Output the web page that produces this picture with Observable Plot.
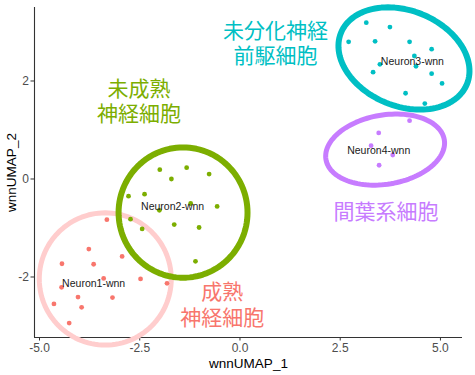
<!DOCTYPE html>
<html><head><meta charset="utf-8">
<script src="https://cdn.jsdelivr.net/npm/d3@7"></script>
<script src="https://cdn.jsdelivr.net/npm/@observablehq/plot@0.6"></script>
<style>body{margin:0;background:#fff;} #chart svg{display:block;}</style>
</head><body><div id="chart"></div>
<script>
// ---- data ----
const clusters = ["Neuron1-wnn", "Neuron2-wnn", "Neuron3-wnn", "Neuron4-wnn"];
const pointColors = ["#F8766D", "#7CAE00", "#00BFC4", "#C77CFF"];
const ellipseColors = ["#FFCDCD", "#7CAE00", "#00BFC4", "#C77CFF"];

const n1x = [-3.32,-3.77,-4.44,-3.65,-2.94,-3.40,-2.48,-1.82,-4.45,-4.04,-3.18,-4.64,-3.95,-4.26];
const n1y = [-0.83,-1.43,-1.73,-1.74,-1.58,-2.03,-2.04,-2.13,-2.21,-2.41,-2.42,-2.55,-2.62,-2.94];
const n2x = [-2.00,-1.33,-0.77,-1.71,-2.78,-2.38,-1.23,-0.57,-2.01,-2.73,-2.44,-1.64,-1.02,-1.11];
const n2y = [0.19,0.23,0.10,0.00,-0.35,-0.31,-0.50,-0.56,-0.64,-0.82,-1.02,-0.93,-0.99,-1.68];
const n3x = [3.15,3.74,2.71,3.37,4.23,4.78,4.35,3.49,4.39,3.32,4.78,5.04,4.13,4.61];
const n3y = [3.19,3.10,2.80,2.81,2.80,2.65,2.51,2.34,2.30,2.18,2.15,1.95,1.75,1.54];
const n4x = [4.23,3.46,3.27,3.81,3.47];
const n4y = [1.19,0.94,0.68,0.49,0.28];

const labelX = [-3.65, -1.68, 4.30, 3.46];
const labelY = [-2.13, -0.56, 2.40, 0.58];

// ellipse: centre + two conjugate semi-axis vectors (data units)
const ellCx = [-3.36, -1.42, 4.09, 3.62];
const ellCy = [-2.04, -0.685, 2.46, 0.60];
const ellUx = [1.646, 1.608, 1.572, 1.476];
const ellUy = [0, 0, -0.521, 0.202];
const ellVx = [0, 0, -0.446, 0.142];
const ellVy = [1.35, 1.33, -0.904, -0.697];
const ellWidth = [5, 6, 6, 5];

const annText = ["未分化神経\n前駆細胞", "未成熟\n神経細胞", "成熟\n神経細胞", "間葉系細胞"];
const annX = [0.885, -2.52, -0.44, 3.64];
const annY = [2.79, 1.60, -2.55, -0.66];
const annColor = ["#00BFC4", "#7CAE00", "#F8766D", "#C77CFF"];

const xTicks = [-5.0, -2.5, 0.0, 2.5, 5.0];
const yTicks = [-2, 0, 2];
const xDomain = [-5.125, 5.55];
const yDomain = [-3.235, 3.50];

// ---- build tables ----
const xs = [n1x, n2x, n3x, n4x], ys = [n1y, n2y, n3y, n4y];
const points = [];
xs.forEach((arr, i) => arr.forEach((x, j) => points.push({x, y: ys[i][j], c: i})));

function ellipse(i) {
  const out = [];
  const n = 120;
  for (let k = 0; k < n; k++) {
    const t = 2 * Math.PI * k / n;
    out.push({
      x: ellCx[i] + ellUx[i] * Math.cos(t) + ellVx[i] * Math.sin(t),
      y: ellCy[i] + ellUy[i] * Math.cos(t) + ellVy[i] * Math.sin(t)
    });
  }
  return out;
}
const labels = clusters.map((t, i) => ({t, x: labelX[i], y: labelY[i]}));
const anns = annText.map((t, i) => ({t, x: annX[i], y: annY[i], c: annColor[i]}));

const font = "'Liberation Sans', Arial, sans-serif";
const fmtX = d => (d < 0 ? "-" : "") + Math.abs(d).toFixed(1);
const fmtY = d => (d < 0 ? "-" : "") + Math.abs(d);

const chart = Plot.plot({
  width: 475,
  height: 375,
  marginLeft: 34,
  marginRight: 13,
  marginTop: 7,
  marginBottom: 38,
  style: {fontFamily: font, background: "#fff", overflow: "visible"},
  x: {domain: xDomain},
  y: {domain: yDomain},
  marks: [
    Plot.axisX({ticks: xTicks, tickFormat: fmtX, tickSize: 3.5, tickPadding: 2, fontSize: 12, color: "#4D4D4D", stroke: "#333", label: null}),
    Plot.axisY({ticks: yTicks, tickFormat: fmtY, tickSize: 3.5, tickPadding: 2, fontSize: 12, color: "#4D4D4D", stroke: "#333", label: null}),
    Plot.ruleY([yDomain[0]], {stroke: "#333", strokeWidth: 1.1}),
    Plot.ruleX([xDomain[0]], {stroke: "#333", strokeWidth: 1.1}),
    ...[0, 1, 2, 3].map(i => Plot.line(ellipse(i), {x: "x", y: "y", curve: "linear-closed", stroke: ellipseColors[i], strokeWidth: ellWidth[i]})),
    Plot.dot(points, {x: "x", y: "y", r: 2.4, fill: d => pointColors[d.c], stroke: null}),
    Plot.text(labels, {x: "x", y: "y", text: "t", fontSize: 10.5, fill: "#1a1a1a", fontFamily: font}),
    Plot.text(anns, {x: "x", y: "y", text: "t", fill: d => d.c, fontSize: 21, lineHeight: 1.2, lineAnchor: "middle", fontFamily: "'Noto Sans CJK JP', sans-serif"}),
    Plot.text(["wnnUMAP_1"], {frameAnchor: "bottom", dy: 26, lineAnchor: "middle", fontSize: 13.5, fill: "#000", fontFamily: font}),
    Plot.text(["wnnUMAP_2"], {frameAnchor: "left", rotate: -90, dx: -23, textAnchor: "middle", lineAnchor: "middle", fontSize: 13.5, fill: "#000", fontFamily: font})
  ]
});
document.getElementById("chart").appendChild(chart);
</script>
</body></html>
